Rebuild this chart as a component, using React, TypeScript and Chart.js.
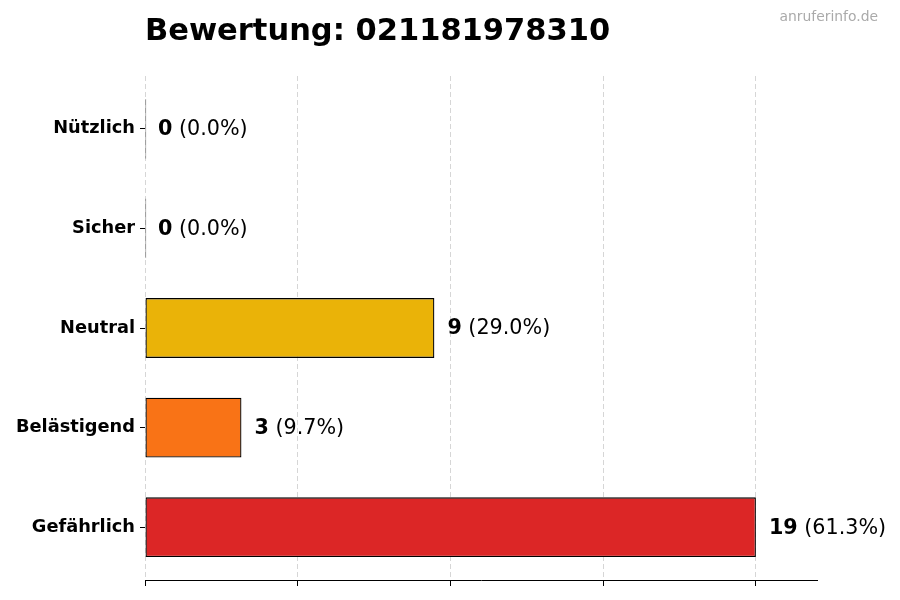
import { useEffect, useRef } from 'react'
import { Chart, registerables } from 'chart.js'

Chart.register(...registerables)

const TITLE = 'Bewertung: 021181978310'
const WATERMARK = 'anruferinfo.de'
const categories = ['Nützlich', 'Sicher', 'Neutral', 'Belästigend', 'Gefährlich']
const counts = [0, 0, 9, 3, 19]
const barColors = ['#16a34a', '#3b82f6', '#eab308', '#f97316', '#dc2626']
const xTicks = [0, 4.75, 9.5, 14.25, 19]
const xMax = 20.9
const yMin = -0.53
const yMax = 4.53

const total = counts.reduce((a, b) => a + b, 0)

const FONT = '"DejaVu Sans", sans-serif'

const textPlugin = {
  id: 'texts',
  beforeDraw(chart: Chart) {
    const ctx = chart.ctx
    ctx.save()
    ctx.fillStyle = '#ffffff'
    ctx.fillRect(0, 0, chart.width, chart.height)
    ctx.restore()
  },
  afterDraw(chart: Chart) {
    const ctx = chart.ctx
    ctx.save()
    // title
    ctx.fillStyle = '#000'
    ctx.font = `bold 30.5px ${FONT}`
    ctx.textAlign = 'left'
    ctx.textBaseline = 'alphabetic'
    ctx.fillText(TITLE, chart.chartArea.left, 40)
    // watermark
    ctx.fillStyle = '#aaaaaa'
    ctx.font = `13.9px ${FONT}`
    ctx.textAlign = 'right'
    ctx.textBaseline = 'middle'
    ctx.fillText(WATERMARK, 878, 17.5)

    // value labels
    const xScale = chart.scales.x
    const yScale = chart.scales.y
    counts.forEach((v, i) => {
      const x = xScale.getPixelForValue(v) + 13
      const y = yScale.getPixelForValue(i) + 1
      const pct = total ? (v / total) * 100 : 0
      ctx.fillStyle = '#000'
      ctx.textAlign = 'left'
      ctx.textBaseline = 'middle'
      ctx.font = `bold 20.7px ${FONT}`
      const bold = String(v)
      ctx.fillText(bold, x, y)
      const w = ctx.measureText(bold).width
      ctx.font = `20.7px ${FONT}`
      ctx.fillText(` (${pct.toFixed(1)}%)`, x + w, y)
    })
    ctx.restore()
  },
}

export default function App() {
  const chartRef = useRef<HTMLCanvasElement>(null)
  const chartInstance = useRef<Chart | null>(null)

  useEffect(() => {
    if (!chartRef.current) return
    if (chartInstance.current) {
      chartInstance.current.destroy()
    }
    const ctx = chartRef.current.getContext('2d')
    if (!ctx) return

    chartInstance.current = new Chart(ctx, {
      type: 'bar',
      data: {
        datasets: [
          {
            data: counts.map((c, i) => ({ x: c, y: i })),
            backgroundColor: (c: any) => (counts[c.dataIndex] === 0 ? '#000000' : barColors[c.dataIndex]),
            borderColor: '#000000',
            borderWidth: 1.3,
            borderSkipped: false,
            barPercentage: 0.6,
            categoryPercentage: 1,
            minBarLength: 1.2,
          },
        ],
      },
      options: {
        indexAxis: 'y',
        responsive: false,
        animation: false,
        devicePixelRatio: 1,
        layout: {
          padding: { top: 76, right: 83, bottom: 0, left: 0 },
        },
        plugins: {
          legend: { display: false },
          tooltip: { enabled: false },
          title: { display: false },
        },
        scales: {
          x: {
            type: 'linear',
            min: 0,
            max: xMax,
            z: 1,
            afterBuildTicks: (scale: any) => {
              scale.ticks = xTicks.map((v) => ({ value: v }))
            },
            afterFit: (scale: any) => {
              scale.height = 20
            },
            ticks: { display: false },
            grid: {
              color: 'rgba(0,0,0,0.16)',
              lineWidth: 1,
              drawTicks: true,
              tickLength: 6,
              tickColor: '#000000',
              tickBorderDash: [],
            },
            border: {
              display: true,
              color: '#000000',
              width: 1,
              dash: [5, 3],
            },
          },
          y: {
            type: 'linear',
            min: yMin,
            max: yMax,
            reverse: true,
            offset: false,
            afterBuildTicks: (scale: any) => {
              scale.ticks = categories.map((_, i) => ({ value: i }))
            },
            afterFit: (scale: any) => {
              scale.width = 145
            },
            ticks: {
              color: '#000000',
              padding: 5,
              font: { family: FONT, size: 17.8, weight: 'bold' },
              callback: (v: any) => categories[v] ?? '',
            },
            grid: {
              display: true,
              offset: false,
              drawOnChartArea: false,
              drawTicks: true,
              tickLength: 5,
              tickColor: '#000000',
            },
            border: { display: false },
          },
        },
      },
      plugins: [textPlugin],
    })

    return () => {
      if (chartInstance.current) {
        chartInstance.current.destroy()
        chartInstance.current = null
      }
    }
  }, [])

  return (
    <div style={{ position: 'absolute', left: 0, top: 0, width: 900, height: 600, background: '#fff' }}>
      <canvas ref={chartRef} width={900} height={600} />
    </div>
  )
}
